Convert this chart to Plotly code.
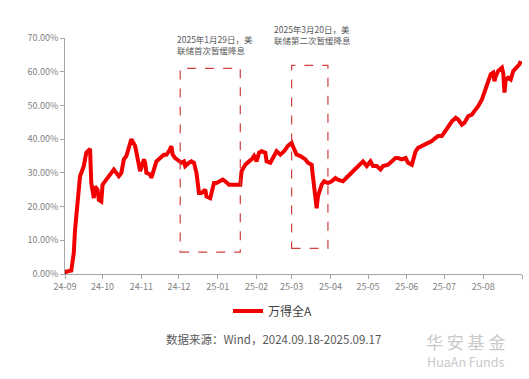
import plotly.graph_objects as go

# ---- data ----
dates = [
    "2024-09-18", "2024-09-19", "2024-09-23", "2024-09-25", "2024-09-26", "2024-09-28",
    "2024-09-30", "2024-10-03", "2024-10-05", "2024-10-08", "2024-10-09", "2024-10-11",
    "2024-10-12", "2024-10-14", "2024-10-15", "2024-10-17", "2024-10-18", "2024-10-21",
    "2024-10-24", "2024-10-27", "2024-10-29", "2024-10-31", "2024-11-02", "2024-11-04",
    "2024-11-06", "2024-11-08", "2024-11-10", "2024-11-13", "2024-11-15", "2024-11-16",
    "2024-11-17", "2024-11-20", "2024-11-21", "2024-11-22", "2024-11-25", "2024-11-26",
    "2024-11-28", "2024-11-30", "2024-12-03", "2024-12-06", "2024-12-08", "2024-12-10",
    "2024-12-12", "2024-12-13", "2024-12-15", "2024-12-18", "2024-12-20", "2024-12-22",
    "2024-12-23", "2024-12-26", "2024-12-28", "2024-12-30", "2025-01-01", "2025-01-03",
    "2025-01-05", "2025-01-08", "2025-01-09", "2025-01-12", "2025-01-14", "2025-01-15",
    "2025-01-17", "2025-01-20", "2025-01-22", "2025-01-24", "2025-01-27", "2025-01-31",
    "2025-02-05", "2025-02-06", "2025-02-09", "2025-02-12", "2025-02-14", "2025-02-16",
    "2025-02-18", "2025-02-20", "2025-02-22", "2025-02-25", "2025-02-26", "2025-03-01",
    "2025-03-04", "2025-03-06", "2025-03-09", "2025-03-12", "2025-03-15", "2025-03-18",
    "2025-03-19", "2025-03-22", "2025-03-25", "2025-03-27", "2025-03-29", "2025-03-31",
    "2025-04-03", "2025-04-04", "2025-04-06", "2025-04-07", "2025-04-08", "2025-04-11",
    "2025-04-13", "2025-04-16", "2025-04-19", "2025-04-22", "2025-04-24", "2025-04-28",
    "2025-05-02", "2025-05-06", "2025-05-09", "2025-05-12", "2025-05-14", "2025-05-17",
    "2025-05-20", "2025-05-22", "2025-05-25", "2025-05-28", "2025-05-30", "2025-06-03",
    "2025-06-06", "2025-06-09", "2025-06-11", "2025-06-14", "2025-06-17", "2025-06-19",
    "2025-06-22", "2025-06-25", "2025-06-27", "2025-06-30", "2025-07-03", "2025-07-05",
    "2025-07-08", "2025-07-10", "2025-07-13", "2025-07-16", "2025-07-19", "2025-07-21",
    "2025-07-24", "2025-07-27", "2025-07-29", "2025-08-01", "2025-08-03", "2025-08-06",
    "2025-08-09", "2025-08-11", "2025-08-14", "2025-08-17", "2025-08-19", "2025-08-22",
    "2025-08-24", "2025-08-26", "2025-08-27", "2025-08-28", "2025-08-30", "2025-09-02",
    "2025-09-03", "2025-09-04", "2025-09-05", "2025-09-07", "2025-09-09", "2025-09-11",
    "2025-09-14", "2025-09-16", "2025-09-17",
]
values = [
    0.0, 0.7, 1.0, 6.2, 13.0, 23.0,
    29.0, 32.0, 36.0, 37.1, 27.0, 22.5,
    26.0, 25.0, 22.0, 21.5, 26.5, 28.0,
    29.5, 31.0, 30.0, 29.0, 30.0, 34.0,
    35.0, 38.0, 40.0, 38.0, 34.0, 32.0,
    30.5, 34.0, 33.0, 30.0, 29.5, 28.5,
    31.0, 33.4, 34.4, 35.4, 35.4, 36.4,
    37.9, 35.4, 34.4, 33.4, 33.0, 33.4,
    32.0, 33.0, 33.4, 33.0, 30.0, 24.0,
    24.0, 25.0, 23.0, 22.5, 26.0, 27.0,
    27.0, 27.5, 28.0, 27.5, 26.5, 26.5,
    26.5, 30.5, 32.4, 33.4, 34.0, 35.0,
    33.4, 36.0, 36.4, 36.0, 33.4, 33.0,
    35.4, 36.4, 35.4, 36.4, 38.0, 38.9,
    37.9, 35.4, 35.0, 34.4, 34.0, 33.0,
    32.4, 29.0, 24.0, 19.5, 23.0, 26.5,
    27.5, 27.0, 27.5, 28.5, 28.0, 27.5,
    29.0, 30.5, 31.5, 32.4, 33.4, 32.0,
    33.4, 32.0, 32.0, 31.0, 32.0, 32.4,
    33.4, 34.4, 34.4, 34.0, 34.4, 33.0,
    32.4, 36.4, 37.4, 37.9, 38.4, 38.9,
    39.4, 40.1, 40.9, 40.9, 42.4, 43.8,
    45.3, 46.3, 45.8, 44.3, 44.8, 46.8,
    47.3, 48.3, 49.8, 51.8, 53.8, 56.7,
    59.2, 59.7, 57.2, 58.7, 60.2, 61.2,
    59.7, 53.8, 57.7, 58.2, 57.7, 60.2,
    61.2, 62.2, 63.2,
]
series_name = "万得全A"

tick_dates = ["2024-09-18", "2024-10-18", "2024-11-18", "2024-12-18", "2025-01-18",
              "2025-02-18", "2025-03-18", "2025-04-18", "2025-05-18", "2025-06-18",
              "2025-07-18", "2025-08-18", "2025-09-18"]
tick_labels = ["24-09", "24-10", "24-11", "24-12", "25-01", "25-02", "25-03",
               "25-04", "25-05", "25-06", "25-07", "25-08", ""]
y_ticks = [0, 10, 20, 30, 40, 50, 60, 70]
y_tick_labels = ["%.2f%%" % v for v in y_ticks]

box1 = {"x0": "2024-12-19", "x1": "2025-02-05", "y0": 6.5, "y1": 61.0}
box2 = {"x0": "2025-03-18", "x1": "2025-04-16", "y0": 7.6, "y1": 61.9}
note1 = "2025年1月29日，美<br>联储首次暂缓降息"
note2 = "2025年3月20日，美<br>联储第二次暂缓降息"
source_text = "数据来源：Wind，2024.09.18-2025.09.17"
watermark = ("<span style='font-size:17px'>华 安 基 金</span><br>"
             "<span style='font-size:12.5px'>HuaAn Funds</span>")

W, H = 529, 379
L, R, T, B = 65, 7, 38, 105
PW, PH = W - L - R, H - T - B


def px(x):
    return (x - L) / PW


def py(y):
    return (H - B - y) / PH


FONT = "Noto Sans CJK SC"

fig = go.Figure()
fig.add_trace(go.Scatter(
    x=dates, y=values, mode="lines", name=series_name,
    line=dict(color="#f20000", width=4),
))

for b in (box1, box2):
    fig.add_shape(type="rect", xref="x", yref="y", x0=b["x0"], x1=b["x1"],
                  y0=b["y0"], y1=b["y1"],
                  line=dict(color="#d0403f", width=1.2, dash="dash"))

fig.add_annotation(text=note1, xref="paper", yref="paper", x=px(175), y=py(44),
                   xanchor="left", yanchor="middle", showarrow=False, align="left",
                   font=dict(family=FONT, size=8.5, color="#595959"))
fig.add_annotation(text=note2, xref="paper", yref="paper", x=px(272), y=py(34),
                   xanchor="left", yanchor="middle", showarrow=False, align="left",
                   font=dict(family=FONT, size=8.5, color="#595959"))
fig.add_annotation(text=source_text, xref="paper", yref="paper", x=px(273), y=py(339),
                   xanchor="center", yanchor="middle", showarrow=False,
                   font=dict(family=FONT, size=11.5, color="#595959"))
fig.add_annotation(text=watermark, xref="paper", yref="paper", x=px(465), y=py(350),
                   xanchor="center", yanchor="middle", showarrow=False, align="center",
                   font=dict(family=FONT, size=14, color="#c9c9c9"))

fig.update_layout(
    width=W, height=H,
    margin=dict(l=L, r=R, t=T, b=B, pad=0),
    paper_bgcolor="white", plot_bgcolor="white",
    font=dict(family=FONT, color="#7f7f7f"),
    showlegend=True,
    legend=dict(orientation="h", x=px(228), y=py(311), xanchor="left", yanchor="middle",
                font=dict(family=FONT, size=12, color="#404040"),
                bgcolor="rgba(0,0,0,0)"),
    xaxis=dict(type="date", range=["2024-09-18", "2025-09-18"],
               tickvals=tick_dates, ticktext=tick_labels,
               showgrid=False, zeroline=False,
               showline=True, linecolor="#a6a6a6", linewidth=1,
               ticks="outside", ticklen=4, tickcolor="#a6a6a6",
               tickfont=dict(family=FONT, size=9, color="#7f7f7f")),
    yaxis=dict(range=[0, 70], tickvals=y_ticks, ticktext=y_tick_labels,
               showgrid=False, zeroline=False,
               showline=True, linecolor="#a6a6a6", linewidth=1,
               ticks="outside", ticklen=4, tickcolor="#a6a6a6",
               tickfont=dict(family=FONT, size=9, color="#7f7f7f")),
)

fig.write_html("out.html")
